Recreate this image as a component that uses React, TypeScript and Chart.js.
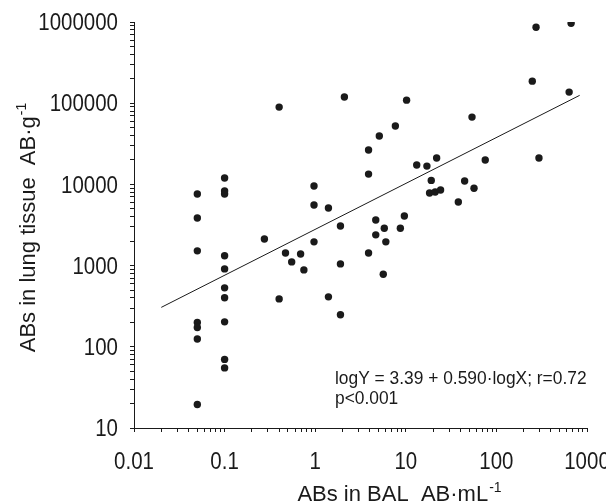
import React, { useEffect, useRef } from "react";
import { Chart, registerables } from "chart.js";

Chart.register(...registerables);

// ABs in BAL (AB/mL)
const balValues = [
  0.05, 0.05, 0.05, 0.05, 0.05, 0.05, 0.05,
  0.1, 0.1, 0.1, 0.1, 0.1, 0.1, 0.1, 0.1, 0.1, 0.1,
  0.275, 0.4, 0.4, 0.47, 0.55, 0.69, 0.75, 0.97, 0.97, 0.97,
  1.4, 1.4, 1.9, 1.9, 1.9, 2.1, 3.88, 3.88, 3.88, 4.66, 4.66,
  5.1, 5.64, 5.79, 6.02, 7.67, 8.71, 9.64, 10.2, 13.2, 17.1,
  18.3, 19.1, 21.1, 21.9, 24.2, 38, 44.6, 53.8, 56.6, 75.3,
  249, 274, 295, 635, 668,
];
// ABs in lung tissue (AB/g)
const tissueValues = [
  7620, 3860, 1520, 199, 173, 125, 19.5,
  12000, 8300, 7620, 1320, 911, 532, 401, 203, 70, 55,
  2130, 89500, 389, 1430, 1110, 1390, 885, 9550, 5580, 1960,
  5130, 412, 3080, 1050, 248, 119000, 26500, 13400, 1430, 3650, 2390,
  39400, 784, 2880, 1960, 52300, 2880, 4090, 109000, 17300, 16800,
  7840, 11200, 8060, 21100, 8530, 6080, 11000, 67400, 8960, 20000,
  187000, 863000, 21100, 137000, 966000,
];

// regression line end points
const fitX = [0.02, 830];
const fitY = [306, 125000];

const xTickLabels = ["0.01", "0.1", "1", "10", "100", "1000"];
const yTickLabels = ["10", "100", "1000", "10000", "100000", "1000000"];

const xTitle = "ABs in BAL  AB\u00b7mL";
const xTitleSup = "-1";
const yTitle = "ABs in lung tissue  AB\u00b7g";
const yTitleSup = "-1";
const noteLines = ["logY = 3.39 + 0.590\u00b7logX; r=0.72", "p<0.001"];

const FONT = "'Liberation Sans', Arial, sans-serif";
const INK = "#1a1a1a";

function logTicks(min: number, max: number) {
  const out: { value: number }[] = [];
  const e0 = Math.round(Math.log10(min));
  const e1 = Math.round(Math.log10(max));
  for (let e = e0; e <= e1; e++) {
    for (let m = 1; m <= 9; m++) {
      const v = Number((m * Math.pow(10, e)).toPrecision(6));
      if (v >= min * 0.999 && v <= max * 1.001) out.push({ value: v });
      if (e === e1) break;
    }
  }
  return out;
}

function drawCondensed(
  ctx: CanvasRenderingContext2D,
  text: string,
  x: number,
  y: number,
  align: CanvasTextAlign,
  size: number,
  sx: number
) {
  ctx.save();
  ctx.translate(x, y);
  ctx.scale(sx, 1);
  ctx.font = `${size}px ${FONT}`;
  ctx.textAlign = align;
  ctx.textBaseline = "alphabetic";
  ctx.fillText(text, 0, 0);
  ctx.restore();
}

function drawSupText(
  ctx: CanvasRenderingContext2D,
  main: string,
  sup: string,
  cx: number,
  baseline: number,
  size: number,
  supSize: number
) {
  ctx.font = `${size}px ${FONT}`;
  const w1 = ctx.measureText(main).width;
  ctx.font = `${supSize}px ${FONT}`;
  const w2 = ctx.measureText(sup).width;
  const start = cx - (w1 + w2) / 2;
  ctx.textAlign = "left";
  ctx.textBaseline = "alphabetic";
  ctx.font = `${size}px ${FONT}`;
  ctx.fillText(main, start, baseline);
  ctx.font = `${supSize}px ${FONT}`;
  ctx.fillText(sup, start + w1 + 1, baseline - size * 0.42);
}

const textPlugin = {
  id: "textPlugin",
  afterDraw(chart: any) {
    const ctx: CanvasRenderingContext2D = chart.ctx;
    const area = chart.chartArea;
    const xs = chart.scales.x;
    const ys = chart.scales.y;
    ctx.save();
    ctx.fillStyle = INK;
    // tick labels (condensed face)
    for (const l of xTickLabels) {
      const px = xs.getPixelForValue(Number(l));
      drawCondensed(ctx, l, px, area.bottom + 41, "center", 23, 0.89);
    }
    for (const l of yTickLabels) {
      const py = ys.getPixelForValue(Number(l));
      drawCondensed(ctx, l, area.left - 16, py + 8.2, "right", 23, 0.89);
    }
    // x title
    drawSupText(ctx, xTitle, xTitleSup, area.left + 265, area.bottom + 73, 22, 14);
    // y title
    ctx.save();
    ctx.translate(area.left - 99, (area.top + area.bottom) / 2 + 3);
    ctx.rotate(-Math.PI / 2);
    drawSupText(ctx, yTitle, yTitleSup, 0, 0, 22, 14);
    ctx.restore();
    // annotation
    drawCondensed(ctx, noteLines[0], area.left + 201, area.top + 362, "left", 18, 0.965);
    drawCondensed(ctx, noteLines[1], area.left + 201, area.top + 382, "left", 18, 0.965);
    ctx.restore();
  },
};

export default function App() {
  const ref = useRef<HTMLCanvasElement | null>(null);

  useEffect(() => {
    document.body.style.margin = "0";
    document.body.style.overflow = "hidden";
    const canvas = ref.current;
    if (!canvas) return;
    const points = balValues.map((x, i) => ({ x, y: tissueValues[i] }));
    const line = fitX.map((x, i) => ({ x, y: fitY[i] }));
    const gridOpts = {
      display: true,
      drawOnChartArea: false,
      drawTicks: true,
      tickLength: 4,
      tickColor: INK,
      color: INK,
    };
    const chart = new Chart(canvas, {
      type: "scatter",
      data: {
        datasets: [
          {
            type: "line",
            data: line,
            borderColor: INK,
            borderWidth: 1,
            pointRadius: 0,
            fill: false,
          },
          {
            data: points,
            backgroundColor: INK,
            borderColor: INK,
            pointRadius: 3.7,
            pointBorderWidth: 0,
          },
        ],
      } as any,
      options: {
        animation: false,
        responsive: false,
        maintainAspectRatio: false,
        layout: { padding: { left: 0, top: 22, right: 19, bottom: 0 } },
        plugins: {
          legend: { display: false },
          tooltip: { enabled: false },
          title: { display: false },
        },
        scales: {
          x: {
            type: "logarithmic",
            min: 0.01,
            max: 1000,
            afterBuildTicks: (scale: any) => {
              scale.ticks = logTicks(0.01, 1000);
            },
            afterFit: (scale: any) => {
              scale.height = 75;
              scale.paddingLeft = 0;
              scale.paddingRight = 0;
            },
            border: { display: true, color: INK, width: 1 },
            grid: gridOpts,
            ticks: {
              autoSkip: false,
              maxRotation: 0,
              minRotation: 0,
              color: "rgba(0,0,0,0)",
              callback: () => "",
            },
          },
          y: {
            type: "logarithmic",
            min: 10,
            max: 1000000,
            afterBuildTicks: (scale: any) => {
              scale.ticks = logTicks(10, 1000000);
            },
            afterFit: (scale: any) => {
              scale.width = 134;
              scale.paddingTop = 0;
              scale.paddingBottom = 0;
            },
            border: { display: true, color: INK, width: 1 },
            grid: gridOpts,
            ticks: {
              autoSkip: false,
              color: "rgba(0,0,0,0)",
              callback: () => "",
            },
          },
        },
      } as any,
      plugins: [textPlugin],
    });
    return () => chart.destroy();
  }, []);

  return (
    <div style={{ width: 606, height: 503, background: "#fff" }}>
      <canvas ref={ref} width={606} height={503} style={{ display: "block" }} />
    </div>
  );
}
